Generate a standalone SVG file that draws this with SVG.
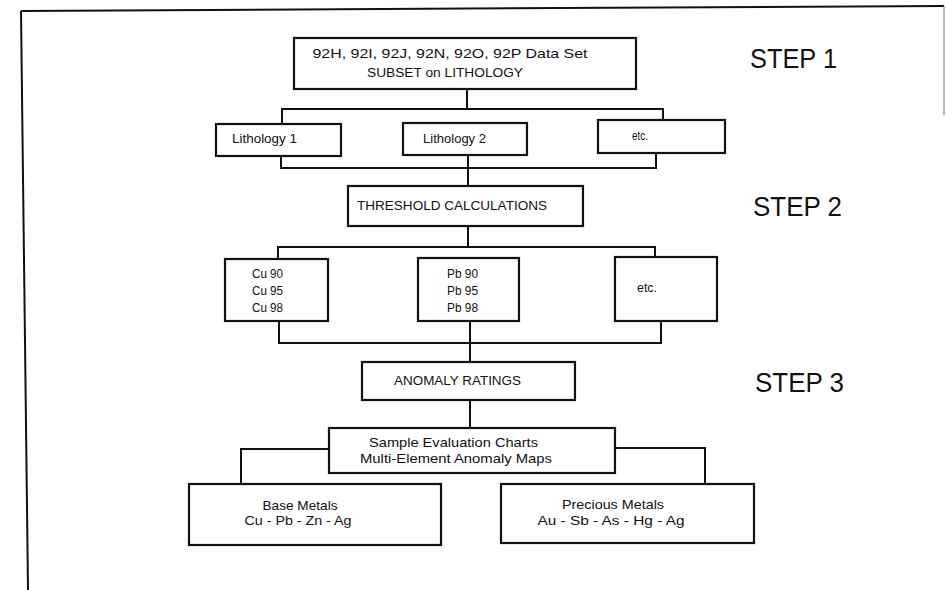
<svg xmlns="http://www.w3.org/2000/svg" width="947" height="590" viewBox="0 0 947 590">
<style>
.box{fill:#fff;stroke:#111;stroke-width:2.2}
.ln{fill:none;stroke:#111;stroke-width:2}
text{font-family:"Liberation Sans",Arial,sans-serif;fill:#111}
.t{font-size:12px}
.m{font-size:13px;text-anchor:middle}
.s{font-size:28px}
</style>
<rect width="947" height="590" fill="#fff"/>
<g id="frame">
<path class="ln" d="M21,11 L944,6" stroke-width="2.5"/>
<path class="ln" d="M21,11 L28,590" stroke-width="2.5"/>
<path d="M944,6 V115" fill="none" stroke="#888" stroke-width="1.2"/>
</g>
<g id="connectors">
<path class="ln" d="M467,89 V109"/>
<path class="ln" d="M282,124 V109 H663 V120"/>
<path class="ln" d="M281,156 V168 H656 V153"/>
<path class="ln" d="M468,155 V186"/>
<path class="ln" d="M468,226 V247"/>
<path class="ln" d="M278,259 V247 H655 V257"/>
<path class="ln" d="M279,321 V343 H661 V321"/>
<path class="ln" d="M470,321 V362"/>
<path class="ln" d="M470,400 V428"/>
<path class="ln" d="M329,449 H241 V484"/>
<path class="ln" d="M615,448 H705 V483"/>
</g>
<g id="dataset">
<rect class="box" x="294" y="38" width="342" height="51"/>
<text class="m" x="450" y="58" textLength="275" lengthAdjust="spacingAndGlyphs">92H, 92I, 92J, 92N, 92O, 92P Data Set</text>
<text class="m" x="445" y="77" textLength="156" lengthAdjust="spacingAndGlyphs">SUBSET on LITHOLOGY</text>
</g>
<g id="lith1">
<rect class="box" x="216" y="124" width="125" height="32"/>
<text class="t" x="232" y="143" textLength="65" lengthAdjust="spacingAndGlyphs">Lithology 1</text>
</g>
<g id="lith2">
<rect class="box" x="403" y="123" width="124" height="32"/>
<text class="t" x="423" y="143" textLength="63" lengthAdjust="spacingAndGlyphs">Lithology 2</text>
</g>
<g id="etc1">
<rect class="box" x="598" y="120" width="127" height="33"/>
<text class="t" x="632" y="140" textLength="16" lengthAdjust="spacingAndGlyphs" font-size="10">etc.</text>
</g>
<g id="threshold">
<rect class="box" x="348" y="186" width="235" height="40"/>
<text class="t" x="357" y="210" font-size="13" textLength="190" lengthAdjust="spacingAndGlyphs">THRESHOLD CALCULATIONS</text>
</g>
<g id="cu">
<rect class="box" x="225" y="259" width="103" height="62"/>
<text class="t" x="252" y="278" font-size="13" textLength="31" lengthAdjust="spacingAndGlyphs">Cu 90</text>
<text class="t" x="252" y="295" font-size="13" textLength="31" lengthAdjust="spacingAndGlyphs">Cu 95</text>
<text class="t" x="252" y="312" font-size="13" textLength="31" lengthAdjust="spacingAndGlyphs">Cu 98</text>
</g>
<g id="pb">
<rect class="box" x="418" y="258" width="101" height="63"/>
<text class="t" x="447" y="278" font-size="13" textLength="31" lengthAdjust="spacingAndGlyphs">Pb 90</text>
<text class="t" x="447" y="295" font-size="13" textLength="31" lengthAdjust="spacingAndGlyphs">Pb 95</text>
<text class="t" x="447" y="312" font-size="13" textLength="31" lengthAdjust="spacingAndGlyphs">Pb 98</text>
</g>
<g id="etc2">
<rect class="box" x="615" y="257" width="102" height="64"/>
<text class="t" x="637" y="292" textLength="20" lengthAdjust="spacingAndGlyphs">etc.</text>
</g>
<g id="anomaly">
<rect class="box" x="362" y="362" width="213" height="38"/>
<text class="t" x="394" y="385" font-size="12.5" textLength="127" lengthAdjust="spacingAndGlyphs">ANOMALY RATINGS</text>
</g>
<g id="sample">
<rect class="box" x="329" y="428" width="286" height="45"/>
<text class="m" x="453.5" y="447" textLength="169" lengthAdjust="spacingAndGlyphs">Sample Evaluation Charts</text>
<text class="m" x="456" y="463" textLength="192" lengthAdjust="spacingAndGlyphs">Multi-Element Anomaly Maps</text>
</g>
<g id="base">
<rect class="box" x="189" y="484" width="252" height="61"/>
<text class="m" x="300" y="510" textLength="75" lengthAdjust="spacingAndGlyphs">Base Metals</text>
<text class="m" x="298" y="525" textLength="107" lengthAdjust="spacingAndGlyphs">Cu - Pb - Zn - Ag</text>
</g>
<g id="precious">
<rect class="box" x="501" y="484" width="253" height="59"/>
<text class="m" x="613" y="509" textLength="102" lengthAdjust="spacingAndGlyphs">Precious Metals</text>
<text class="m" x="611" y="525" textLength="147" lengthAdjust="spacingAndGlyphs">Au - Sb - As - Hg - Ag</text>
</g>
<g id="steps">
<text class="s" x="750" y="68" textLength="87" lengthAdjust="spacingAndGlyphs">STEP 1</text>
<text class="s" x="753" y="216" textLength="89" lengthAdjust="spacingAndGlyphs">STEP 2</text>
<text class="s" x="755" y="392" textLength="89" lengthAdjust="spacingAndGlyphs">STEP 3</text>
</g>
</svg>
